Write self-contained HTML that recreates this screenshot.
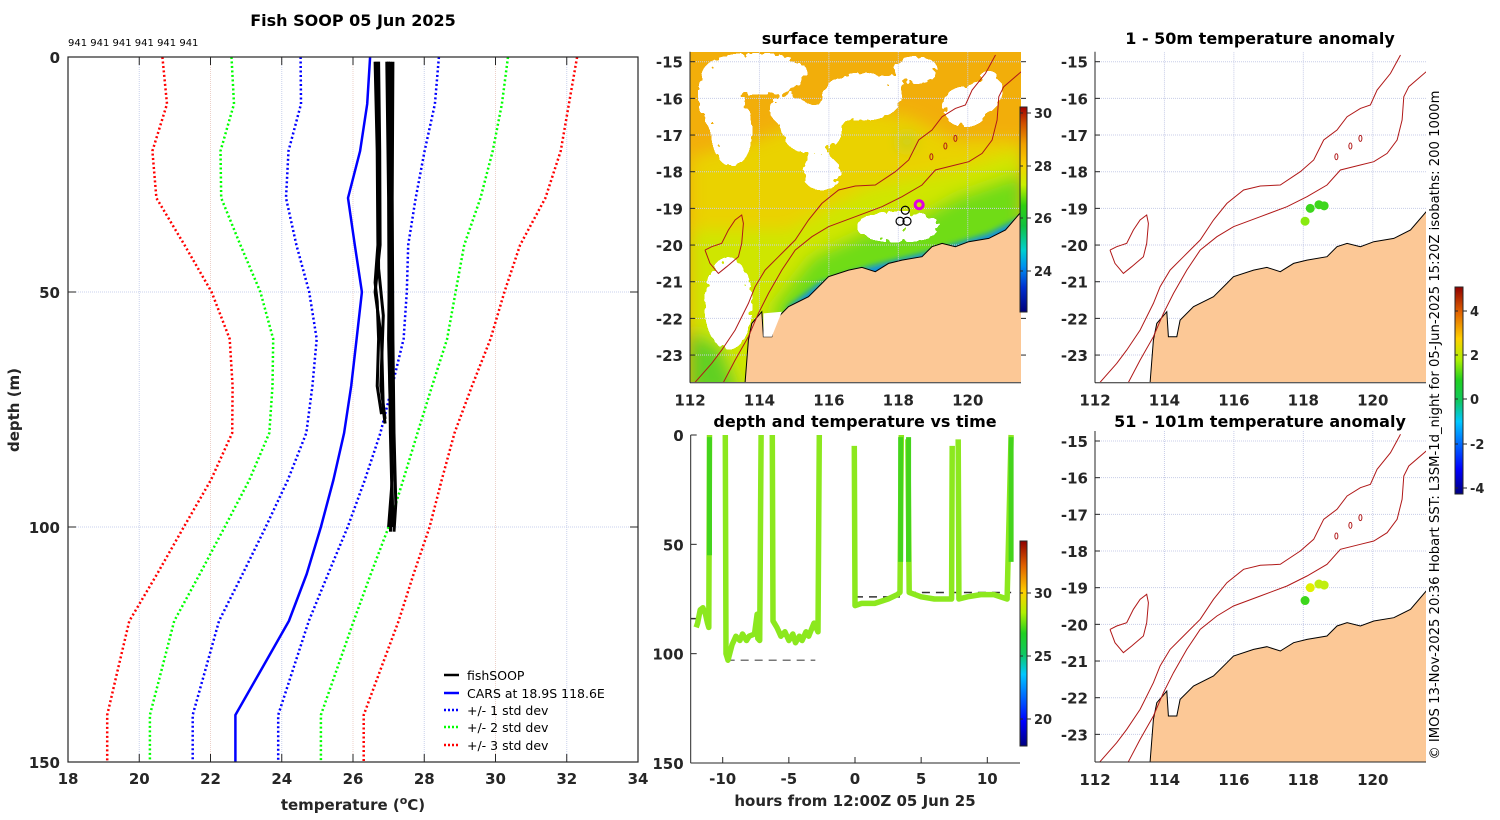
<!DOCTYPE html>
<html><head><meta charset="utf-8"><style>
html,body{margin:0;padding:0;background:#fff;}
svg{display:block;font-family:"DejaVu Sans","Liberation Sans",sans-serif;}
.b{font-weight:bold;font-size:15px;fill:#262626;}
.t{font-weight:bold;font-size:16px;fill:#000;}
</style></head><body>
<svg id="fig" width="1500" height="820" viewBox="0 0 1500 820" xmlns="http://www.w3.org/2000/svg">
<defs>
<linearGradient id="sstcb" x1="0" y1="1" x2="0" y2="0">
<stop offset="0" stop-color="#00007a"/><stop offset="0.12" stop-color="#0030d0"/><stop offset="0.22" stop-color="#0090f0"/><stop offset="0.3" stop-color="#00d0d0"/><stop offset="0.42" stop-color="#10c040"/><stop offset="0.52" stop-color="#30d010"/><stop offset="0.62" stop-color="#c8f000"/><stop offset="0.72" stop-color="#f8d000"/><stop offset="0.82" stop-color="#f0a000"/><stop offset="0.92" stop-color="#d05000"/><stop offset="1" stop-color="#a00000"/>
</linearGradient>
<linearGradient id="jetcb" x1="0" y1="1" x2="0" y2="0">
<stop offset="0" stop-color="#00007f"/><stop offset="0.12" stop-color="#0000ff"/><stop offset="0.35" stop-color="#00c8ff"/><stop offset="0.45" stop-color="#10c860"/><stop offset="0.55" stop-color="#20d020"/><stop offset="0.65" stop-color="#b0f000"/><stop offset="0.75" stop-color="#ffd000"/><stop offset="0.88" stop-color="#e06000"/><stop offset="1" stop-color="#900000"/>
</linearGradient>
<filter id="blur8"><feGaussianBlur stdDeviation="8"/></filter>
<filter id="blur4"><feGaussianBlur stdDeviation="3"/></filter>
<filter id="speckle" x="0" y="0" width="100%" height="100%">
<feGaussianBlur in="SourceGraphic" stdDeviation="6" result="bl"/>
<feTurbulence type="fractalNoise" baseFrequency="0.12" numOctaves="2" seed="3" result="n"/>
<feColorMatrix in="n" type="matrix" values="0 0 0 0 1  0 0 0 0 1  0 0 0 0 1  0 0 0 -2.2 2.1" result="nm"/>
<feComposite in="nm" in2="bl" operator="arithmetic" k1="1.6" k2="0" k3="0.6" k4="-0.55" result="m"/>
<feComponentTransfer in="m"><feFuncA type="discrete" tableValues="0 0 1 1 1"/></feComponentTransfer>
</filter>
<clipPath id="clipSST"><rect x="690" y="52" width="331" height="330"/></clipPath>
<clipPath id="clipA1"><rect x="1095" y="52" width="331" height="330"/></clipPath>
<clipPath id="clipA2"><rect x="1095" y="431" width="331" height="331"/></clipPath>
</defs>

<text class="t" x="353" y="26" text-anchor="middle">Fish SOOP 05 Jun 2025</text>
<text x="68" y="46" font-size="10" fill="#000">941 941 941 941 941 941</text>
<text class="b" transform="translate(19,410) rotate(-90)" text-anchor="middle">depth (m)</text>
<text class="b" x="353" y="810" text-anchor="middle">temperature (<tspan font-size="11" dy="-6">o</tspan><tspan dy="6">C)</tspan></text>

<text class="t" x="855" y="44" text-anchor="middle">surface temperature</text>
<text class="t" x="855" y="427" text-anchor="middle">depth and temperature vs time</text>
<text class="t" x="1260" y="44" text-anchor="middle">1 - 50m temperature anomaly</text>
<text class="t" x="1260" y="427" text-anchor="middle">51 - 101m temperature anomaly</text>
<text class="b" x="855" y="806" text-anchor="middle">hours from 12:00Z 05 Jun 25</text>
<text transform="translate(1439,425) rotate(-90)" text-anchor="middle" font-size="13.2" fill="#000">© IMOS 13-Nov-2025 20:36 Hobart SST: L3SM-1d_night for 05-Jun-2025 15:20Z isobaths: 200  1000m</text>

<g id="legend">
<line x1="444" y1="675" x2="459" y2="675" stroke="#000" stroke-width="2.5"/><text x="467" y="680" font-size="12.5">fishSOOP</text>
<line x1="444" y1="693" x2="459" y2="693" stroke="#00f" stroke-width="2.5"/><text x="467" y="698" font-size="12.5">CARS at 18.9S 118.6E</text>
<line x1="444" y1="710" x2="459" y2="710" stroke="#00f" stroke-width="2.5" stroke-dasharray="2,2"/><text x="467" y="715" font-size="12.5">+/- 1 std dev</text>
<line x1="444" y1="727" x2="459" y2="727" stroke="#0f0" stroke-width="2.5" stroke-dasharray="2,2"/><text x="467" y="732" font-size="12.5">+/- 2 std dev</text>
<line x1="444" y1="745" x2="459" y2="745" stroke="#f00" stroke-width="2.5" stroke-dasharray="2,2"/><text x="467" y="750" font-size="12.5">+/- 3 std dev</text>
</g>
</svg>
<script>
// ---------- profile data ----------
const carsDepths=[0,10,20,30,40,50,60,70,80,90,100,110,120,130,140,150];
const carsMean=[26.48,26.4,26.2,25.86,26.05,26.25,26.1,25.95,25.75,25.45,25.1,24.7,24.2,23.45,22.7,22.7];
const stdDepths=[0,10,20,30,40,50,60,70,80,90,100,110,120,130,140,150];
const stdDev=[1.94,1.88,1.91,1.82,1.57,1.37,1.22,1.12,1.04,1.08,1.15,1.2,1.26,1.23,1.2,1.2];
const stdCenter=[26.47,26.42,26.1,25.94,25.98,26.14,26.2,25.98,25.73,25.25,24.7,24.1,23.5,23.1,22.7,22.7];
const fishDepths=[[1,20,40,48,52,60,70,76],[1,20,40,50,60,75,78],[1,30,60,80,95,101],[1,30,60,80,95,101],[1,40,70,90,100],[1,25,45,55,70,77],[1,30,60,85,100]];
const fishTemps=[[26.62,26.68,26.7,26.62,26.68,26.72,26.68,26.8],[26.72,26.75,26.76,26.62,26.8,26.85,26.9],[26.95,27.0,27.02,27.05,27.1,27.05],[27.12,27.1,27.12,27.15,27.2,27.15],[27.05,27.08,27.06,27.1,27.0],[26.68,26.7,26.72,26.85,26.78,26.9],[27.0,27.04,27.0,27.08,27.12]];
const tempTicks=[18,20,22,24,26,28,30,32,34];
const depthTicks=[0,50,100,150];
// ---------- time series data ----------
const tsHours=[-12.0,-11.9,-11.7,-11.5,-11.3,-11.15,-11.05,-11.0,null,-9.8,-9.75,-9.6,-9.3,-9.0,-8.7,-8.5,-8.2,-8.0,-7.6,-7.4,-7.35,-7.2,-7.1,null,-6.25,-6.2,-5.9,-5.6,-5.3,-5.0,-4.7,-4.5,-4.2,-4.0,-3.7,-3.5,-3.1,-2.8,-2.7,null,-0.05,0.0,0.5,1.5,2.5,3.2,3.4,3.5,null,4.0,4.1,5.0,6.0,7.3,7.35,null,7.8,7.85,8.5,9.5,10.5,11.5,11.8];
const tsDepth=[88,86,80,79,82,86,88,0,null,0,100,103,96,92,94,91,94,92,91,82,93,94,0,null,0,85,88,92,90,94,91,95,92,94,90,92,86,90,0,null,5,78,77,77,75,73,72,0,null,2,72,74,75,75,5,null,2,75,74,73,73,75,0];
const tsHourTicks=[-10,-5,0,5,10];
const refH0=[-12.4,-9.7,0,4.0];
const refH1=[-11,-3,3.4,11.8];
const refDepth=[84,103,74,72];
// ---------- map data ----------
const lonTicks=[112,114,116,118,120];
const latTicks=[-15,-16,-17,-18,-19,-20,-21,-22,-23];
const anomLon=[118.2,118.45,118.6,118.05];
const anomLat=[-19.0,-18.9,-18.93,-19.35];
const anom1=[0.6,0.7,0.7,1.0];
const anom2=[1.9,1.7,1.8,0.5];
const trackLon=[118.2,118.05,118.25,118.6];
const trackLat=[-19.05,-19.35,-19.35,-18.9];

const NS='http://www.w3.org/2000/svg';
const svg=document.getElementById('fig');
function el(tag,attrs,parent){const e=document.createElementNS(NS,tag);for(const k in attrs)e.setAttribute(k,attrs[k]);(parent||svg).appendChild(e);return e;}
function txt(x,y,s,cls,anchor,parent){const t=el('text',{x:x,y:y,class:cls||'b','text-anchor':anchor||'middle'},parent);t.textContent=s;return t;}

// ===== profile axes =====
const PX0=68,PX1=638,PY0=57,PY1=762;
const px=t=>PX0+(t-18)/16*(PX1-PX0);
const py=d=>PY0+d/150*(PY1-PY0);
const gP=el('g',{});


tempTicks.forEach((t,i)=>{
  if(i>0&&i<tempTicks.length-1){const l=el('line',{x1:px(t),x2:px(t),y1:PY0,y2:PY1,stroke:i%2?'#c8d0ec':'#ecd0c8','stroke-width':1,'stroke-dasharray':'1,1'},gP);
  }
  el('line',{x1:px(t),x2:px(t),y1:PY1,y2:PY1-8,stroke:'#262626'},gP);
  el('line',{x1:px(t),x2:px(t),y1:PY0,y2:PY0+8,stroke:'#262626'},gP);
  const lab=txt(px(t),784,String(t),'b','middle',gP);
  
});
depthTicks.forEach(d=>{
  if(d>0&&d<150){el('line',{x1:PX0,x2:PX1,y1:py(d),y2:py(d),stroke:'#c8d0ec','stroke-dasharray':'1,1'},gP);}
  el('line',{x1:PX0,x2:PX0+8,y1:py(d),y2:py(d),stroke:'#262626'},gP);
  el('line',{x1:PX1,x2:PX1-8,y1:py(d),y2:py(d),stroke:'#262626'},gP);
  const lab=txt(PX0-8,py(d)+6,String(d),'b','end',gP);
  
});
function pline(temps,depths,color,dash,w,name){
  const pts=temps.map((t,i)=>px(t).toFixed(1)+','+py(depths[i]).toFixed(1)).join(' ');
  const p=el('polyline',{points:pts,fill:'none',stroke:color,'stroke-width':w,'stroke-dasharray':dash||'none','stroke-linejoin':'round'},gP);
  return p;
}
[[3,'#f00'],[2,'#0f0'],[1,'#00f']].forEach(([k,c])=>{
  pline(stdCenter.map((m,i)=>m-k*stdDev[i]),stdDepths,c,'2,2.5',2.5,'std-minus-'+k);
  pline(stdCenter.map((m,i)=>m+k*stdDev[i]),stdDepths,c,'2,2.5',2.5,'std-plus-'+k);
});
pline(carsMean,carsDepths,'#00f',null,2.5,'cars-mean-line');
fishTemps.forEach((ts,i)=>pline(ts,fishDepths[i],'#000',null,3,'fishsoop-profile-'+i));
const fr=el('rect',{x:PX0,y:PY0,width:PX1-PX0,height:PY1-PY0,fill:'none',stroke:'#262626','stroke-width':1.2},gP);

svg.appendChild(document.getElementById('legend'));

// ===== time series =====
const TX0=690.7,TX1=1020,TY0=435,TY1=763;
const tx=h=>855+h*13.23;
const ty=d=>TY0+d/150*(TY1-TY0);
const gT=el('g',{});


refDepth.forEach((d,i)=>{
  const l=el('line',{x1:tx(refH0[i]),x2:tx(refH1[i]),y1:ty(d),y2:ty(d),stroke:i==1?'#777':'#333','stroke-width':1.5,'stroke-dasharray':'8,6'},gT);
  
});
let seg=[];const segs=[];
tsHours.forEach((h,i)=>{if(h===null){segs.push(seg);seg=[];}else seg.push([tx(h),ty(tsDepth[i])]);});
segs.push(seg);
segs.forEach(s=>{
  const p=el('polyline',{points:s.map(q=>q[0].toFixed(1)+','+q[1].toFixed(1)).join(' '),fill:'none',stroke:'#8ce81e','stroke-width':5.5,'stroke-linejoin':'round'},gT);
  
});
[3.45,4.05,11.8,-11.0].forEach(h=>{el('line',{x1:tx(h),x2:tx(h),y1:ty(1),y2:ty(h<0?55:58),stroke:'#44d41c','stroke-width':5},gT);});
el('line',{x1:TX0,x2:TX0,y1:TY0,y2:TY1,stroke:'#262626'},gT);
el('line',{x1:TX0,x2:TX1,y1:TY1,y2:TY1,stroke:'#262626'},gT);
tsHourTicks.forEach(h=>{el('line',{x1:tx(h),x2:tx(h),y1:TY1,y2:TY1-6,stroke:'#262626'},gT);
  const lab=txt(tx(h),784,String(h),'b','middle',gT);});
depthTicks.forEach(d=>{el('line',{x1:TX0,x2:TX0+6,y1:ty(d),y2:ty(d),stroke:'#262626'},gT);
  const lab=txt(TX0-7,ty(d)+6,String(d),'b','end',gT);});
function colorbar(x,y,w,h,grad,ticks,vals,name){
  const g=el('g',{});
  
  el('rect',{x:x,y:y,width:w,height:h,fill:'url(#'+grad+')',stroke:'#262626','stroke-width':1},g);
  ticks.forEach((t,i)=>{el('line',{x1:x+w,x2:x+w+4,y1:vals[i],y2:vals[i],stroke:'#262626'},g);el('line',{x1:x,x2:x+3,y1:vals[i],y2:vals[i],stroke:'#262626'},g);
    const lab=el('text',{x:x+w+7,y:vals[i]+5,'font-size':13,'font-weight':'bold',fill:'#262626'},g);lab.textContent=t;});
}
colorbar(1020,541,7,205,'jetcb',['30','25','20'],[593,656,719],'ts-colorbar');

// ===== maps =====
function makeMap(X0,Y0,clip,name,kind){
  const lon=l=>X0+(l-112)*34.72, lat=a=>Y0+(-15-a)*36.67;
  const zx=p=>lon(112+(p-105)/104), zy=p=>lat(-15-(p-95)/110);
  const g=el('g',{'clip-path':'url(#'+clip+')'});
  
  const top=Y0-10,bot=Y0+321,left=X0,right=X0+331;
  if(kind==='sst'){
    el('rect',{x:left,y:top,width:331,height:331,fill:'#f2ae0a'},g);
    const f=el('g',{filter:'url(#blur8)'},g);
    el('polygon',{points:[[105,1100],[105,380],[300,330],[560,230],[760,260],[900,330],[1100,330],[1100,1100]].map(q=>zx(q[0])+','+zy(q[1])).join(' '),fill:'#ead200'},f);
    el('polygon',{points:[[105,1100],[105,600],[400,600],[640,470],[900,420],[1100,360],[1100,1100]].map(q=>zx(q[0])+','+zy(q[1])).join(' '),fill:'#cfe600'},f);
    el('polygon',{points:[[300,1100],[360,820],[470,680],[640,600],[760,580],[900,500],[1100,430],[1100,1100]].map(q=>zx(q[0])+','+zy(q[1])).join(' '),fill:'#70dc18'},f);
    el('polygon',{points:[[105,1100],[105,900],[200,950],[260,1100]].map(q=>zx(q[0])+','+zy(q[1])).join(' '),fill:'#60d020'},f);
    el('polygon',{points:[[340,1100],[400,830],[490,760],[640,710],[820,665],[1000,610],[1100,560],[1100,1100]].map(q=>zx(q[0])+','+zy(q[1])).join(' '),fill:'#1090e0'},el('g',{filter:'url(#blur4)'},g));
    el('ellipse',{cx:zx(755),cy:zy(335),rx:6,ry:5,fill:'#50c830'},f);
    const c=el('g',{filter:'url(#speckle)',fill:'#fff'},g);
    [[300,130,160,60],[620,200,120,70],[470,300,90,70],[400,240,60,40],[930,230,70,60],[730,590,130,45],[220,820,70,140],[500,430,60,50],[230,300,60,110],[180,200,50,90],[780,120,70,40],[1000,180,40,60]].forEach(e=>{
      el('ellipse',{cx:zx(e[0]),cy:zy(e[1]),rx:e[2]/3,ry:e[3]/3,fill:'#fff'},c);});
  } else {
    el('rect',{x:left,y:top,width:331,height:340,fill:'#fff'},g);
  }
  lonTicks.forEach(l=>el('line',{x1:lon(l),x2:lon(l),y1:top,y2:bot+10,stroke:'#c8cde8','stroke-dasharray':'1,1'},g));
  latTicks.forEach(a=>el('line',{x1:left,x2:right,y1:lat(a),y2:lat(a),stroke:'#c8cde8','stroke-dasharray':'1,1'},g));
  const coast=[[270,1057],[280,930],[290,880],[320,845],[325,920],[350,920],[360,870],[400,830],[460,800],[500,760],[520,740],[580,720],[620,712],[660,725],[700,700],[740,690],[800,680],[830,650],[860,640],[900,650],[940,635],[1000,625],[1050,600],[1097,545],[1120,520],[1120,1100],[260,1100]];
  const land=el('polygon',{points:coast.map(q=>zx(q[0]).toFixed(1)+','+zy(q[1]).toFixed(1)).join(' '),fill:'#fcc896',stroke:'#000','stroke-width':1},g);
  
  if(kind==='sst'){el('polygon',{points:[[325,850],[325,920],[350,920],[380,845]].map(q=>zx(q[0])+','+zy(q[1])).join(' '),fill:'#fff'},g);}
  const iso200=[[205,1057],[240,990],[280,920],[310,850],[340,790],[380,720],[420,660],[470,620],[520,590],[600,560],[680,530],[740,500],[800,465],[840,420],[900,405],[940,395],[980,370],[1010,330],[1025,270],[1030,200],[1045,170],[1097,125]];
  const iso1000=[[120,1057],[170,1000],[200,960],[240,900],[280,820],[300,770],[330,720],[370,680],[420,630],[460,570],[500,520],[550,480],[600,468],[660,465],[720,425],[760,390],[790,330],[830,300],[860,260],[900,235],[930,225],[950,180],[990,130],[1020,75]];
  const plateau=[[150,660],[165,700],[190,730],[215,710],[250,680],[260,640],[265,580],[260,555],[240,570],[220,600],[200,640],[170,650],[150,660]];
  [iso200,iso1000,plateau].forEach((arr,i)=>{const p=el('polyline',{points:arr.map(q=>zx(q[0]).toFixed(1)+','+zy(q[1]).toFixed(1)).join(' '),fill:'none',stroke:'#b01818','stroke-width':1},g);
    });
  [[828,380],[870,348],[900,325]].forEach(q=>el('ellipse',{cx:zx(q[0]),cy:zy(q[1]),rx:1.5,ry:3,fill:'none',stroke:'#b01818','stroke-width':1},g));
  const a=el('g',{});
  
  el('line',{x1:left,x2:left,y1:Y0-10,y2:bot,stroke:'#262626'},a);
  el('line',{x1:left,x2:right,y1:bot,y2:bot,stroke:'#262626'},a);
  lonTicks.forEach(l=>{txt(lon(l),bot+23,String(l),'b','middle',a);});
  latTicks.forEach(v=>{el('line',{x1:left,x2:left+5,y1:lat(v),y2:lat(v),stroke:'#262626'},a);txt(left-7,lat(v)+6,String(v),'b','end',a);
    if(kind==='sst')el('line',{x1:right,x2:right+5,y1:lat(v),y2:lat(v),stroke:'#262626'},a);});
  return {g,lon,lat};
}
const m1=makeMap(690,61.7,'clipSST','sst-map','sst');
trackLon.forEach((l,i)=>{const c=el('circle',{cx:m1.lon(l),cy:m1.lat(trackLat[i]),r:4,fill:'none',stroke:i==3?'#e000e0':'#000','stroke-width':i==3?3:1.2},m1.g);
  });
colorbar(1020,107,7,205,'sstcb',['30','28','26','24'],[113,166,218,271],'sst-colorbar');
const m2=makeMap(1095,61.7,'clipA1','anomaly-map-shallow','anom');
const m3=makeMap(1095,441,'clipA2','anomaly-map-deep','anom');
function anomColor(v){if(v<0.2)return '#28c828';if(v<0.8)return '#3cd61c';if(v<1.3)return '#88ea10';if(v<1.85)return '#c0ee10';return '#e0f000';}
[[m2,anom1],[m3,anom2]].forEach(([m,vals])=>{vals.forEach((v,i)=>{const c=el('circle',{cx:m.lon(anomLon[i]),cy:m.lat(anomLat[i]),r:4.5,fill:anomColor(v)},m.g);
  });});
colorbar(1455,287,8,207,'jetcb',['4','2','0','-2','-4'],[311,355,399,444,488],'anomaly-colorbar');
</script>
</body></html>
